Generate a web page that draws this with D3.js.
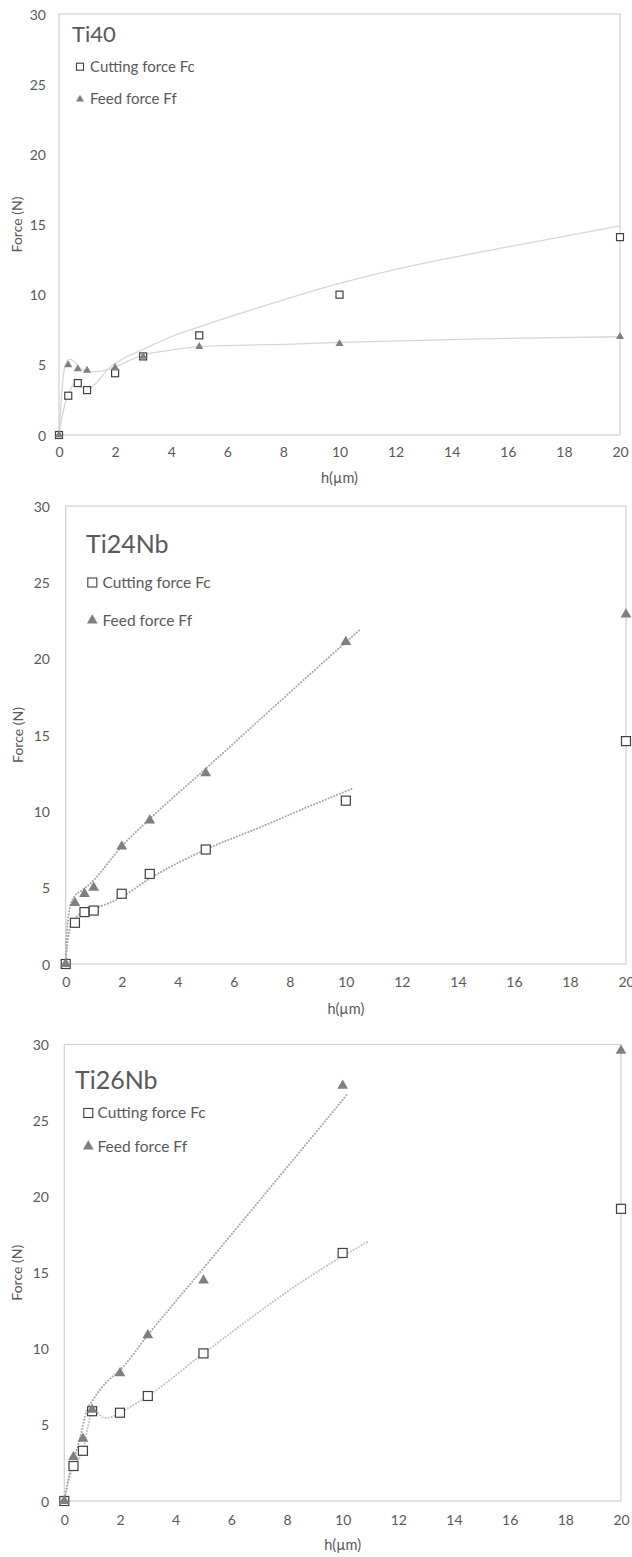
<!DOCTYPE html>
<html>
<head>
<meta charset="utf-8">
<script src="https://cdn.jsdelivr.net/npm/d3@7"></script>
<style>
  body { margin: 0; background: #fff; }
  svg { display: block; font-family: Lato, "Open Sans", sans-serif; }
</style>
</head>
<body>
<svg id="chart" width="632" height="1557"></svg>
<script>
// Uncut chip thickness h (µm), shared by the three alloys
const hValues = [0, 0.33, 0.67, 1, 2, 3, 5, 10, 20];

// Measured forces (N)
const ti40Fc = [0, 2.8, 3.7, 3.2, 4.4, 5.6, 7.1, 10.0, 14.1];
const ti40Ff = [0, 5.0, 4.7, 4.6, 4.8, 5.6, 6.3, 6.5, 7.0];
const ti24Fc = [0, 2.7, 3.4, 3.5, 4.6, 5.9, 7.5, 10.7, 14.6];
const ti24Ff = [0, 4.0, 4.6, 5.0, 7.7, 9.4, 12.5, 21.1, 22.9];
const ti26Fc = [0, 2.3, 3.3, 5.9, 5.8, 6.9, 9.7, 16.3, 19.2];
const ti26Ff = [0, 2.9, 4.1, 6.0, 8.4, 10.9, 14.5, 27.3, 29.6];

// Trend lines as [h, F]
const ti40FcTrend = [[0,0],[0.1,1.2],[0.2,2.1],[0.33,2.85],[0.5,3.55],[0.62,3.75],[0.8,3.4],[1,3.2],[1.3,3.65],[1.8,4.8],[2.3,5.45],[3,6.1],[4,7.0],[5,7.7],[7,9.0],[10,10.8],[12,11.8],[16,13.4],[20,14.9]];
const ti40FfTrend = [[0,0],[0.08,2.5],[0.18,4.6],[0.3,5.3],[0.4,5.4],[0.55,5.2],[0.8,4.7],[1.1,4.5],[1.5,4.55],[2,4.85],[2.5,5.3],[3,5.7],[4,6.05],[5,6.3],[8.6,6.5],[10,6.6],[15,6.85],[20,7.0]];
const ti24FcTrend = [[0,0],[0.05,1.2],[0.15,2.3],[0.33,2.95],[0.6,3.4],[1,3.65],[1.5,3.95],[2,4.4],[3,5.6],[5,7.5],[7,9.0],[8.4,10.1],[10.25,11.5]];
const ti24FfTrend = [[0,0],[0.05,2.2],[0.15,3.7],[0.3,4.4],[0.6,4.85],[0.9,5.3],[1.2,5.9],[1.5,6.6],[2,7.7],[3,9.5],[5,12.8],[8.4,18.45],[10.47,21.85]];
const ti26FcTrend = [[0,0],[0.1,0.9],[0.32,2.25],[0.68,3.35],[0.85,4.9],[1,5.95],[1.15,5.85],[1.45,5.45],[1.75,5.55],[2,5.8],[3,6.9],[5,9.7],[9.2,15.2],[10.9,17.04]];
const ti26FfTrend = [[0,0],[0.14,1.4],[0.38,2.9],[0.57,4.2],[0.8,5.9],[1.05,6.7],[1.3,7.35],[1.6,7.95],[2,8.6],[3,10.9],[5,15.3],[10.2,26.8]];

// Tick labels
const xTicks = [0, 2, 4, 6, 8, 10, 12, 14, 16, 18, 20];
const yTicks = [0, 5, 10, 15, 20, 25, 30];

const legendLabels = ["Cutting force Fc", "Feed force Ff"];

const svg = d3.select("#chart");

// Layout of each panel (pixel box of the plot area and text placement)
const panels = [
  { name: "Ti40", fc: ti40Fc, ff: ti40Ff, fcTrend: ti40FcTrend, ffTrend: ti40FfTrend,
    left: 59, right: 620, top: 14, bottom: 435,
    titleX: 72, titleY: 42, titleSize: 22,
    legX: 80, legY: [66.7, 99.3], legText: 90, legSize: 15, sq: 7, tri: 28,
    yLabX: 46, xLabY: 460, xTitleY: 483, yTitleX: 22,
    dotted: false, fcColor: "#d6d6d6", ffColor: "#d6d6d6" },
  { name: "Ti24Nb", fc: ti24Fc, ff: ti24Ff, fcTrend: ti24FcTrend, ffTrend: ti24FfTrend,
    left: 65.7, right: 626, top: 506, bottom: 964,
    titleX: 86, titleY: 553, titleSize: 25,
    legX: 92.3, legY: [582.5, 620.5], legText: 102.5, legSize: 15.5, sq: 9, tri: 50,
    yLabX: 50, xLabY: 990.5, xTitleY: 1014, yTitleX: 23,
    dotted: true, fcColor: "#a8a8a8", ffColor: "#a8a8a8" },
  { name: "Ti26Nb", fc: ti26Fc, ff: ti26Ff, fcTrend: ti26FcTrend, ffTrend: ti26FfTrend,
    left: 64.3, right: 621, top: 1044.5, bottom: 1501,
    titleX: 75, titleY: 1089, titleSize: 25,
    legX: 88.3, legY: [1113, 1146.5], legText: 97.5, legSize: 15.5, sq: 9, tri: 50,
    yLabX: 49, xLabY: 1528, xTitleY: 1550, yTitleX: 22,
    dotted: true, fcColor: "#c4c4c4", ffColor: "#a8a8a8" }
];

panels.forEach(p => {
  const x = d3.scaleLinear().domain([0, 20]).range([p.left, p.right]);
  const y = d3.scaleLinear().domain([0, 30]).range([p.bottom, p.top]);
  const g = svg.append("g");

  // plot frame
  g.append("rect")
    .attr("x", p.left)
    .attr("y", p.top)
    .attr("width", p.right - p.left)
    .attr("height", p.bottom - p.top)
    .attr("fill", "none")
    .attr("stroke", "#cfcfcf")
    .attr("stroke-width", 1.2);

  // axes, labels only (no tick marks, Excel style)
  const xAxis = g.append("g")
    .attr("transform", `translate(0,${p.xLabY - 13})`)
    .call(d3.axisBottom(x).tickValues(xTicks).tickSize(0).tickPadding(0));
  const yAxis = g.append("g")
    .attr("transform", `translate(${p.yLabX},0)`)
    .call(d3.axisLeft(y).tickValues(yTicks).tickSize(0).tickPadding(0));
  [xAxis, yAxis].forEach(a => {
    a.select(".domain").remove();
    a.selectAll("text")
      .attr("fill", "#595959")
      .style("font-size", "14px")
      .style("font-family", "Lato, sans-serif");
  });
  yAxis.selectAll("text").attr("dy", "0.36em");

  // axis titles
  g.append("text")
    .attr("x", (p.left + p.right) / 2)
    .attr("y", p.xTitleY)
    .attr("text-anchor", "middle")
    .attr("fill", "#595959")
    .style("font-size", "14.5px")
    .text("h(\u00b5m)");

  g.append("text")
    .attr("transform", `translate(${p.yTitleX},${(p.top + p.bottom) / 2}) rotate(-90)`)
    .attr("text-anchor", "middle")
    .attr("fill", "#595959")
    .style("font-size", "14px")
    .text("Force (N)");

  // trend lines
  const line = d3.line()
    .x(d => x(d[0]))
    .y(d => y(d[1]))
    .curve(d3.curveMonotoneX);

  [[p.fcTrend, p.fcColor], [p.ffTrend, p.ffColor]].forEach(([pts, col]) => {
    const path = g.append("path")
      .datum(pts)
      .attr("fill", "none")
      .attr("stroke", col)
      .attr("d", line);
    if (p.dotted) {
      path.attr("stroke-width", 2)
        .attr("stroke-linecap", "round")
        .attr("stroke-dasharray", "0.1,3");
    } else {
      path.attr("stroke-width", 1.3);
    }
  });

  // cutting force: open squares
  g.selectAll(".fc")
    .data(hValues.map((h, i) => [h, p.fc[i]]))
    .enter()
    .append("rect")
    .attr("x", d => x(d[0]) - p.sq / 2)
    .attr("y", d => y(d[1]) - p.sq / 2)
    .attr("width", p.sq)
    .attr("height", p.sq)
    .attr("fill", "#fff")
    .attr("stroke", "#3f3f3f")
    .attr("stroke-width", 1.2);

  // feed force: grey triangles
  const tri = d3.symbol(d3.symbolTriangle, p.tri);
  g.selectAll(".ff")
    .data(hValues.map((h, i) => [h, p.ff[i]]))
    .enter()
    .append("path")
    .attr("d", tri)
    .attr("transform", d => `translate(${x(d[0])},${y(d[1])})`)
    .attr("fill", "#7f7f7f");

  // title
  g.append("text")
    .attr("x", p.titleX)
    .attr("y", p.titleY)
    .attr("fill", "#595959")
    .style("font-size", p.titleSize + "px")
    .text(p.name);

  // legend
  g.append("rect")
    .attr("x", p.legX - p.sq / 2)
    .attr("y", p.legY[0] - p.sq / 2)
    .attr("width", p.sq)
    .attr("height", p.sq)
    .attr("fill", "#fff")
    .attr("stroke", "#3f3f3f")
    .attr("stroke-width", 1.1);
  g.append("path")
    .attr("d", tri)
    .attr("transform", `translate(${p.legX},${p.legY[1]})`)
    .attr("fill", "#7f7f7f");

  legendLabels.forEach((label, i) => {
    g.append("text")
      .attr("x", p.legText)
      .attr("y", p.legY[i] + 5)
      .attr("fill", "#595959")
      .style("font-size", p.legSize + "px")
      .text(label);
  });
});
</script>
</body>
</html>
